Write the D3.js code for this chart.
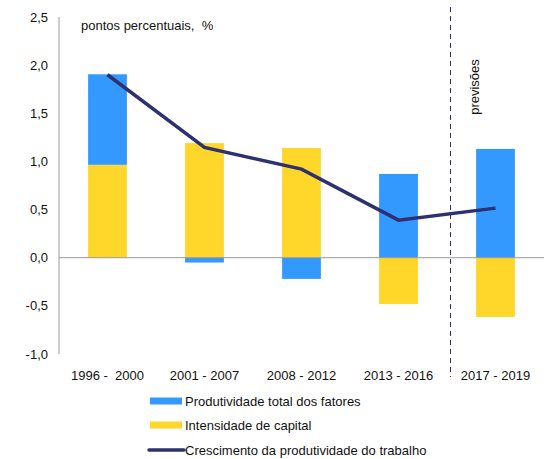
<!DOCTYPE html>
<html><head><meta charset="utf-8">
<script src="https://cdn.jsdelivr.net/npm/d3@7"></script>
<style>body{margin:0;background:#fff}svg{display:block;font-family:"Liberation Sans",Arial,sans-serif}</style>
</head><body>
<script>
const categories = ["1996 -  2000","2001 - 2007","2008 - 2012","2013 - 2016","2017 - 2019"];
const ptf = [0.94, -0.05, -0.22, 0.87, 1.13];
const capital = [0.965, 1.19, 1.14, -0.48, -0.615];
const trabalho = [1.9, 1.145, 0.92, 0.39, 0.515];
const yTicks = [2.5, 2.0, 1.5, 1.0, 0.5, 0.0, -0.5, -1.0];
const legendLabels = ["Produtividade total dos fatores","Intensidade de capital","Crescimento da produtividade do trabalho"];

const W = 554, H = 459;
const blue = "#3399FF", yellow = "#FFD62A", navy = "#2E3170";
const svg = d3.select("body").append("svg").attr("width", W).attr("height", H);

const x = d3.scaleBand().domain(categories).range([59, 544]).paddingInner(0.6).paddingOuter(0.3);
const y = d3.scaleLinear().domain([-1, 2.5]).range([354, 17]);

categories.forEach((c, i) => {
  const vals = [{v: capital[i], col: yellow}, {v: ptf[i], col: blue}];
  let pos = 0, neg = 0;
  vals.forEach(d => {
    let y0, y1;
    if (d.v >= 0) { y0 = pos; y1 = pos + d.v; pos = y1; }
    else { y0 = neg; y1 = neg + d.v; neg = y1; }
    svg.append("rect")
      .attr("x", x(c)).attr("width", x.bandwidth())
      .attr("y", y(Math.max(y0, y1))).attr("height", Math.abs(y(y0) - y(y1)))
      .attr("fill", d.col);
  });
});

svg.append("line").attr("x1", 59).attr("x2", 59).attr("y1", y(2.5)).attr("y2", y(-1))
  .attr("stroke", "#9a9a9a").attr("stroke-width", 1);
svg.append("line").attr("x1", 59).attr("x2", 544).attr("y1", y(0)).attr("y2", y(0))
  .attr("stroke", "#9a9a9a").attr("stroke-width", 1);

svg.selectAll(".yt").data(yTicks).enter().append("text")
  .attr("x", 48).attr("y", d => y(d)).attr("dy", "0.35em")
  .attr("text-anchor", "end").attr("font-size", 13).attr("fill", "#111")
  .text(d => d3.format(".1f")(d).replace(".", ",").replace("−", "-"));

svg.selectAll(".xt").data(categories).enter().append("text")
  .attr("x", d => x(d) + x.bandwidth() / 2).attr("y", 375).attr("dy", "0.35em")
  .attr("text-anchor", "middle").attr("font-size", 13).attr("fill", "#111")
  .style("white-space", "pre")
  .text(d => d);

const sepX = (x(categories[3]) + x.bandwidth() + x(categories[4])) / 2 + 3.5;
svg.append("line").attr("x1", sepX).attr("x2", sepX).attr("y1", 7).attr("y2", 377)
  .attr("stroke", navy).attr("stroke-width", 1).attr("stroke-dasharray", "5,4");

svg.append("text").attr("transform", `translate(${sepX + 28},87) rotate(-90)`)
  .attr("text-anchor", "middle").attr("font-size", 13).attr("fill", "#111").text("previsões");

svg.append("text").attr("x", 81).attr("y", 30).attr("font-size", 13).attr("fill", "#111")
  .style("white-space", "pre").text("pontos percentuais,  %");

const line = d3.line().x((d, i) => x(categories[i]) + x.bandwidth() / 2).y(d => y(d));
svg.append("path").datum(trabalho).attr("d", line).attr("fill", "none")
  .attr("stroke", navy).attr("stroke-width", 3.5).attr("stroke-linejoin", "miter");

const lg = svg.append("g");
const rows = [401, 425, 450];
lg.append("rect").attr("x", 150).attr("y", rows[0] - 3.5).attr("width", 32).attr("height", 7).attr("fill", blue);
lg.append("rect").attr("x", 150).attr("y", rows[1] - 3.5).attr("width", 32).attr("height", 7).attr("fill", yellow);
lg.append("line").attr("x1", 149).attr("x2", 184).attr("y1", rows[2]).attr("y2", rows[2])
  .attr("stroke", navy).attr("stroke-width", 3.5).attr("stroke-linecap", "round");
legendLabels.forEach((t, i) => {
  lg.append("text").attr("x", 185).attr("y", rows[i]).attr("dy", "0.35em")
    .attr("font-size", 13).attr("fill", "#111").text(t);
});
</script>
</body></html>
